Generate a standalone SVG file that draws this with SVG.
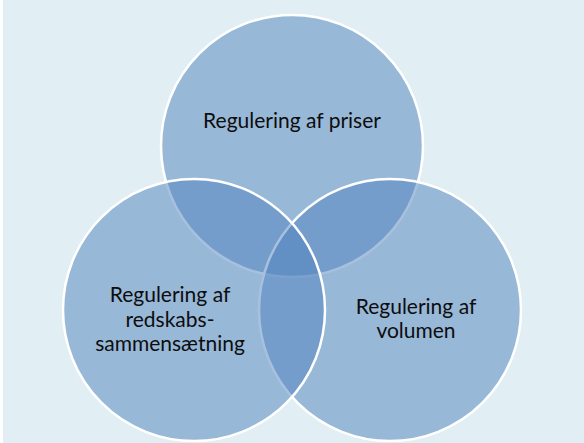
<svg xmlns="http://www.w3.org/2000/svg" width="584" height="443" viewBox="0 0 584 443">
<style>
.c{fill:#4F81BD;fill-opacity:0.5;stroke:#FFFFFF;stroke-width:2.5}
.t{font-family:Lato,"Open Sans","Liberation Sans",sans-serif;font-size:21px;fill:#0D0D0D;text-anchor:middle}
</style>
<rect x="0" y="0" width="584" height="443" fill="#FFFFFF"/>
<rect x="3" y="0" width="581" height="443" fill="#E1EEF3"/>
<g id="node-priser">
<circle class="c" cx="292" cy="146" r="131"/>
<text class="t" x="292" y="128">Regulering af priser</text>
</g>
<g id="node-volumen">
<circle class="c" cx="390" cy="310" r="131"/>
<text class="t" x="416" y="314">Regulering af</text>
<text class="t" x="416" y="338">volumen</text>
</g>
<g id="node-redskab">
<circle class="c" cx="194" cy="310" r="131"/>
<text class="t" x="170" y="302">Regulering af</text>
<text class="t" x="170" y="327">redskabs-</text>
<text class="t" x="170" y="351">sammensætning</text>
</g>
<g id="connectors"/>
</svg>
